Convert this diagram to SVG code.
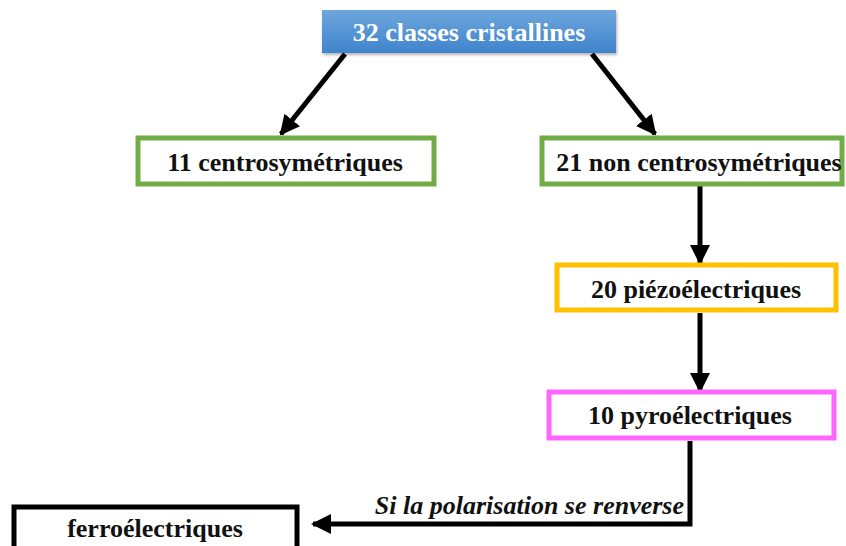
<svg xmlns="http://www.w3.org/2000/svg" width="846" height="546" viewBox="0 0 846 546">
<defs>
<linearGradient id="blue" x1="0" y1="0" x2="0" y2="1">
<stop offset="0" stop-color="#6ea6dc"/>
<stop offset="1" stop-color="#3f84cc"/>
</linearGradient>
<marker id="ah" viewBox="0 0 10 10" refX="9" refY="5" markerWidth="4" markerHeight="4" markerUnits="strokeWidth" orient="auto">
<path d="M0,0 L10,5 L0,10 Z" fill="#000"/>
</marker>
<filter id="sh" x="-5%" y="-10%" width="110%" height="130%">
<feDropShadow dx="1" dy="2" stdDeviation="1.5" flood-color="#000" flood-opacity="0.3"/>
</filter>
</defs>
<style>
.t{font-family:"Liberation Serif","Times New Roman",serif;font-weight:bold;font-size:26px;fill:#111;text-anchor:middle}
.box{fill:#fff;stroke-width:5}
.c{stroke:#000;stroke-width:5;fill:none}
</style>
<rect width="846" height="546" fill="#fff"/>
<g id="connectors">
<line class="c" x1="345" y1="54" x2="281" y2="134" marker-end="url(#ah)"/>
<line class="c" x1="592" y1="54" x2="655" y2="134" marker-end="url(#ah)"/>
<line class="c" x1="700" y1="186" x2="700" y2="263" marker-end="url(#ah)"/>
<line class="c" x1="700" y1="313" x2="700" y2="391" marker-end="url(#ah)"/>
<path class="c" d="M690,441 V524 H313" marker-end="url(#ah)"/>
<text x="684" y="514" style="font-family:'Liberation Serif','Times New Roman',serif;font-weight:bold;font-style:italic;font-size:26px;fill:#111;text-anchor:end">Si la polarisation se renverse</text>
</g>
<g id="n32">
<rect x="322" y="10" width="294" height="43" fill="url(#blue)" filter="url(#sh)"/>
<text class="t" x="469" y="41" style="fill:#fff">32 classes cristallines</text>
</g>
<g id="n11">
<rect class="box" x="138" y="138" width="296" height="46" stroke="#70ad47"/>
<text class="t" x="285" y="171">11 centrosymétriques</text>
</g>
<g id="n21">
<rect class="box" x="542" y="138" width="300" height="46" stroke="#70ad47"/>
<text class="t" x="699" y="171">21 non centrosymétriques</text>
</g>
<g id="n20">
<rect class="box" x="557" y="265" width="279" height="45" stroke="#ffc000"/>
<text class="t" x="696" y="298">20 piézoélectriques</text>
</g>
<g id="n10">
<rect class="box" x="549" y="392" width="285" height="46" stroke="#ff66ff"/>
<text class="t" x="690" y="424">10 pyroélectriques</text>
</g>
<g id="nferro">
<rect class="box" x="14" y="507" width="283" height="50" stroke="#000"/>
<text class="t" x="155" y="537">ferroélectriques</text>
</g>
</svg>
